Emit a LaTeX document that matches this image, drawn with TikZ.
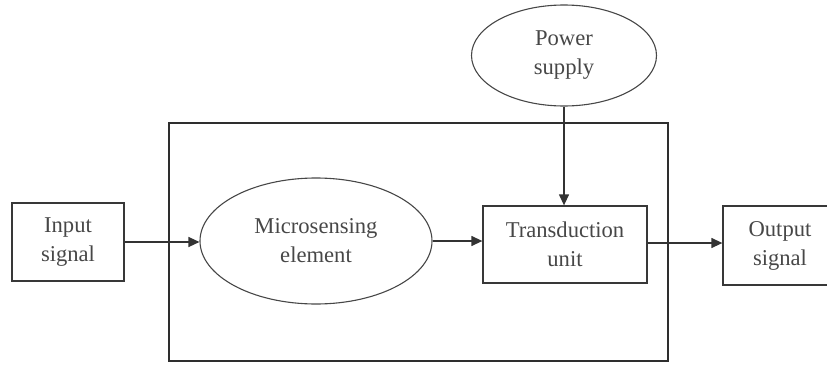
\documentclass[tikz,border=0pt]{standalone}
\usepackage{fontspec}
\setmainfont{Liberation Serif}
\usetikzlibrary{shapes.geometric,arrows.meta}
\begin{document}
\begin{tikzpicture}[x=1pt,y=-1pt,
  lbl/.style={font=\fontsize{22.6}{29}\selectfont, text=black!72, align=center},
  boxnode/.style={lbl, draw=black!78, line width=1.3pt, rectangle, inner sep=0pt},
  ellnode/.style={lbl, draw=black!72, line width=1.1pt, ellipse, inner sep=0pt},
  conn/.style={draw=black!80, line width=1.3pt, -{Triangle[length=11pt,width=10pt]}},
  frame/.style={draw=black!82, line width=2.6pt}
]
\useasboundingbox (0,0) rectangle (827,364);
\draw[frame] (169,123) rectangle (668,361);
\node[boxnode, minimum width=112pt, minimum height=78pt] (in) at (68,242) {Input\\signal};
\node[ellnode, minimum width=232pt, minimum height=126pt] (mse) at (316,241) {Microsensing\\element};
\node[boxnode, minimum width=164pt, minimum height=77pt] (tu) at (565,244.5) {Transduction\\unit};
\begin{scope}
\clip (0,0) rectangle (827,364);
\node[boxnode, minimum width=114pt, minimum height=79pt] (out) at (780,245.5) {Output\\signal};
\end{scope}
\node[ellnode, minimum width=185pt, minimum height=101pt] (ps) at (564,55.5) {Power\\supply};
\draw[conn] (in.east) -- (in.east -| mse.west);
\draw[conn] (mse.east) -- (mse.east -| tu.west);
\draw[conn] (tu.east |- 0,243) -- (out.west |- 0,243);
\draw[conn] (ps.south) -- (ps.south |- tu.north);
\end{tikzpicture}
\end{document}
